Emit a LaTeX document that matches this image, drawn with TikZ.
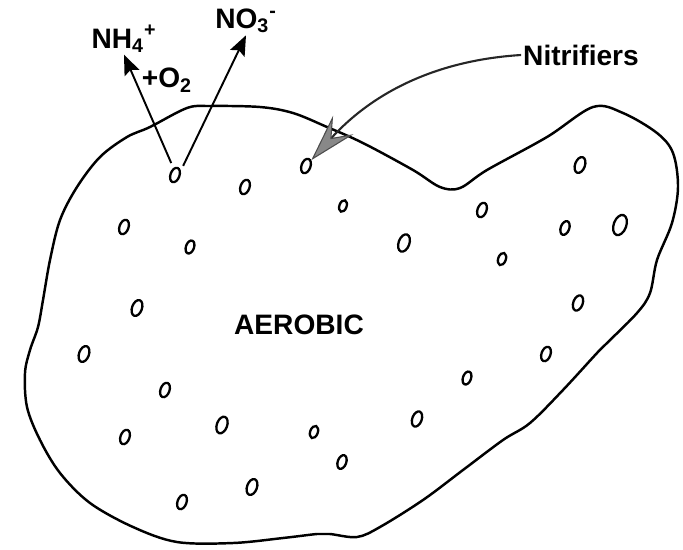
\documentclass[tikz,border=0pt]{standalone}
\usepackage{fontspec}
\setmainfont{Liberation Sans}
\usepackage{tikz}
\usetikzlibrary{arrows.meta, positioning, shapes.geometric}

\tikzset{
  pore/.style={draw, ellipse, inner sep=0pt, minimum width=0.18cm, minimum height=0.3cm, line width=1.3pt, rotate=-20},
  chem/.style={font=\fontsize{16}{19}\selectfont\bfseries, inner sep=1pt},
  flux/.style={line width=1.1pt, -{Stealth[length=0.4cm, width=0.32cm, inset=0.07cm]}},
}

\begin{document}
\begin{tikzpicture}[x=0.02cm, y=-0.02cm]
  \useasboundingbox (0,0) rectangle (683,549);
  % floc outline
  \draw[line width=1.4pt] plot[smooth cycle, tension=0.55] coordinates {
    (25,373) (30,350) (38,327) (43,300) (50,260) (60,220) (77,187) (100,157)
    (127,137) (150,127) (187,108) (210,106) (260,107) (293,113) (327,127)
    (363,143) (413,170) (440,187) (460,188) (487,170) (547,137) (593,107)
    (623,113) (657,133) (673,153) (678,187) (672,223) (657,260) (650,293)
    (637,313) (607,343) (597,353) (563,390) (530,423) (503,440) (463,470)
    (423,500) (380,527) (357,537) (330,534) (317,534) (283,538) (233,543)
    (177,542) (133,527) (90,503) (60,473) (40,440) (27,407)};
  % pores
  \foreach \n/\x/\y/\s in {1/175/175/1, 2/245/187/1, 3/306/166/1, 4/343/206/0.8,
      5/482/210/1, 6/580/165/1.1, 7/124/227/1, 8/190/247/0.9, 9/404/243/1.2,
      10/502/259/0.85, 11/565/228/0.95, 12/620/225/1.4, 13/137/308/1.1,
      14/578/303/1.05, 15/84/354/1.1, 16/546/354/1, 17/165/390/1, 18/467/378/0.9,
      19/125/437/1, 20/222/425/1.15, 21/314/432/0.85, 22/417/419/1.05,
      23/342/462/0.95, 24/252/487/1.1, 25/182/502/1} {
    \node[pore, scale=\s] (o\n) at (\x,\y) {};
  }
  % labels
  \node[chem] (aer) at (299,325) {AEROBIC};
  \node[chem] (nitr) at (581,55) {Nitrifiers};
  \node[chem] (nh4) at (124,39) {NH\textsubscript{4}\textsuperscript{+}};
  \node[chem] (no3) at (246,21) {NO\textsubscript{3}\textsuperscript{-}};
  \node[chem] (o2) at (167,80) {+O\textsubscript{2}};
  % reactions
  \draw[flux, shorten <=3pt] (o1.north west) -- (nh4.south);
  \draw[flux, shorten <=3pt] (o1.north east) -- (no3.south);
  \draw[line width=1.2pt, black!85,
        -{Stealth[length=0.95cm, width=0.55cm, inset=0.35cm, fill=gray!45!black!60, color=black!70, line width=0.6pt]}]
    (nitr.west) .. controls (440,60) and (375,90) .. (o3);
\end{tikzpicture}
\end{document}
